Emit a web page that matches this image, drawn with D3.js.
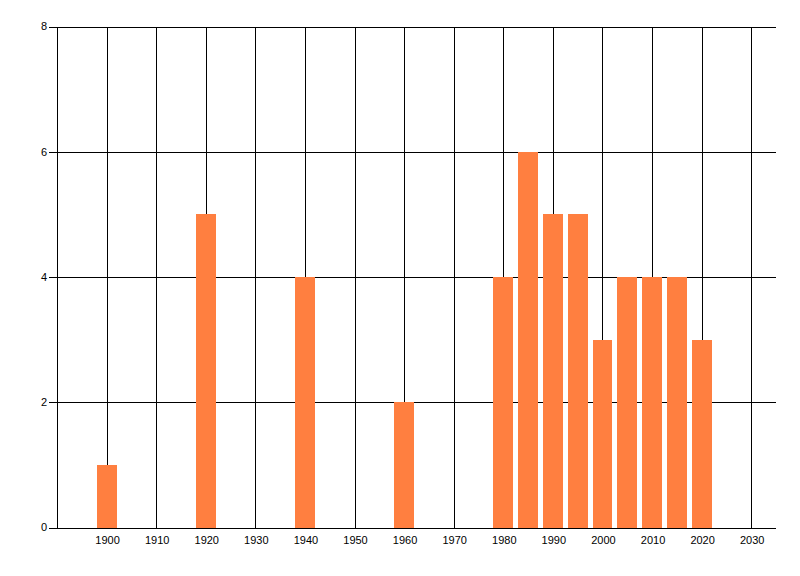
<!DOCTYPE html>
<meta charset="utf-8">
<script src="https://d3js.org/d3.v7.min.js"></script>
<style>
  body { margin: 0; background: #fff; }
  text { font-family: "Liberation Sans", Arial, sans-serif; font-size: 11px; fill: #000; }
</style>
<div id="chart"></div>
<script>
  // data
  var years = [1900, 1920, 1940, 1960, 1980, 1985, 1990, 1995, 2000, 2005, 2010, 2015, 2020];
  var counts = [1, 5, 4, 2, 4, 6, 5, 5, 3, 4, 4, 4, 3];
  var xTicks = [1900, 1910, 1920, 1930, 1940, 1950, 1960, 1970, 1980, 1990, 2000, 2010, 2020, 2030];
  var yTicks = [0, 2, 4, 6, 8];

  var W = 800, H = 576;
  var plotLeft = 57, plotRight = 776, plotTop = 26.5, plotBottom = 527.5;

  var svg = d3.select("#chart").append("svg")
      .attr("width", W)
      .attr("height", H);

  var x = d3.scaleLinear().domain([1890, 2035]).range([plotLeft, plotRight]);
  var y = d3.scaleLinear().domain([0, 8]).range([plotBottom, plotTop]);

  // vertical grid, one line per decade
  svg.append("g").selectAll("line")
      .data(d3.range(1890, 2040, 10))
      .enter().append("line")
      .attr("x1", function(d) { return Math.round(x(d)) + 0.5; })
      .attr("x2", function(d) { return Math.round(x(d)) + 0.5; })
      .attr("y1", Math.round(y(8)) + 0.5)
      .attr("y2", Math.round(y(0)) + 0.5)
      .attr("stroke", "#000");

  // horizontal grid with little ticks on the left
  svg.append("g").selectAll("line")
      .data(yTicks)
      .enter().append("line")
      .attr("x1", plotLeft - 8)
      .attr("x2", plotRight)
      .attr("y1", function(d) { return Math.round(y(d)) + 0.5; })
      .attr("y2", function(d) { return Math.round(y(d)) + 0.5; })
      .attr("stroke", "#000");

  // bars (4 years wide, centred on the year)
  svg.append("g").selectAll("rect")
      .data(years)
      .enter().append("rect")
      .attr("x", function(d) { return Math.round(x(d - 2)); })
      .attr("width", function(d) { return Math.round(x(d + 2)) - Math.round(x(d - 2)); })
      .attr("y", function(d, i) { return Math.round(y(counts[i])); })
      .attr("height", function(d, i) { return Math.round(y(0)) - Math.round(y(counts[i])); })
      .attr("fill", "#ff7f40");

  // axis lines on top of the bars
  svg.append("line")
      .attr("x1", plotLeft + 0.5).attr("x2", plotLeft + 0.5)
      .attr("y1", Math.round(y(8)) + 0.5).attr("y2", Math.round(y(0)) + 0.5)
      .attr("stroke", "#000");
  svg.append("line")
      .attr("x1", plotLeft - 8).attr("x2", plotRight)
      .attr("y1", Math.round(y(0)) + 0.5).attr("y2", Math.round(y(0)) + 0.5)
      .attr("stroke", "#000");

  // tick labels
  svg.append("g").selectAll("text")
      .data(yTicks)
      .enter().append("text")
      .attr("x", plotLeft - 10)
      .attr("y", function(d) { return y(d); })
      .attr("dy", "0.35em")
      .attr("text-anchor", "end")
      .text(function(d) { return d; });

  svg.append("g").selectAll("text")
      .data(xTicks)
      .enter().append("text")
      .attr("x", function(d) { return x(d) + 1; })
      .attr("y", plotBottom + 13)
      .attr("dy", "0.35em")
      .attr("text-anchor", "middle")
      .text(function(d) { return d; });
</script>
